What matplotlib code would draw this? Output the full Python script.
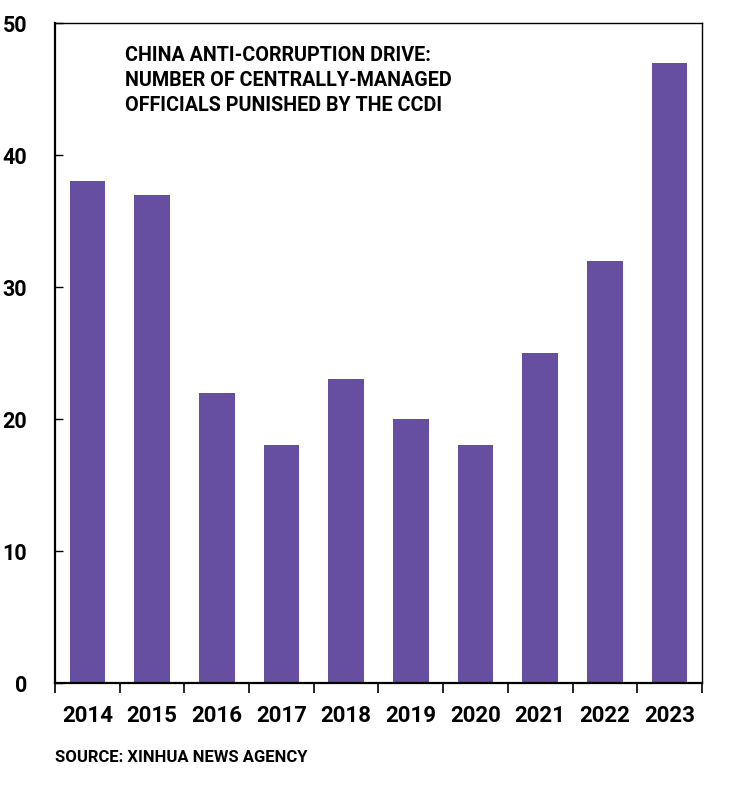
import matplotlib
matplotlib.use("Agg")
import matplotlib.pyplot as plt
import numpy as np

YEARS = ["2014", "2015", "2016", "2017", "2018", "2019", "2020", "2021", "2022", "2023"]
OFFICIALS = [38, 37, 22, 18, 23, 20, 18, 25, 32, 47]
Y_TICKS = [0, 10, 20, 30, 40, 50]

TITLE = ("CHINA ANTI-CORRUPTION DRIVE:\n"
         "NUMBER OF CENTRALLY-MANAGED\n"
         "OFFICIALS PUNISHED BY THE CCDI")
SOURCE = "SOURCE: XINHUA NEWS AGENCY"

BAR_COLOR = "#664fa1"

plt.rcParams["font.family"] = ["Roboto", "DejaVu Sans"]
plt.rcParams["font.weight"] = "bold"

fig = plt.figure(figsize=(7.3, 8.0), dpi=100)
ax = fig.add_axes([0.0753, 0.14625, 0.8863, 0.825])

x = np.arange(len(YEARS))
ax.bar(x, OFFICIALS, width=0.55, color=BAR_COLOR, zorder=2)

ax.set_xlim(-0.5, len(YEARS) - 0.5)
ax.set_ylim(0, 50)

# year labels centred, ticks on the category boundaries
ax.set_xticks(x)
ax.set_xticklabels(YEARS, fontsize=16, fontweight="bold")
ax.tick_params(axis="x", which="major", length=0, pad=16)
ax.set_xticks(np.arange(len(YEARS) + 1) - 0.5, minor=True)
ax.tick_params(axis="x", which="minor", length=7, width=1.2, direction="out")

ax.set_yticks(Y_TICKS)
ax.set_yticklabels([str(v) for v in Y_TICKS], fontsize=15.5, fontweight="bold")
ax.tick_params(axis="y", length=6, width=1, direction="in", pad=20)

for side in ["left", "bottom"]:
    ax.spines[side].set_linewidth(1.6)
for side in ["top", "right"]:
    ax.spines[side].set_linewidth(1.0)

ax.text(0.108, 0.965, TITLE, transform=ax.transAxes, ha="left", va="top",
        fontsize=14.2, fontweight="bold", linespacing=1.4)

fig.text(0.0753, 0.047, SOURCE, ha="left", va="baseline",
         fontsize=12, fontweight="bold")

fig.savefig("out.png", dpi=100)
